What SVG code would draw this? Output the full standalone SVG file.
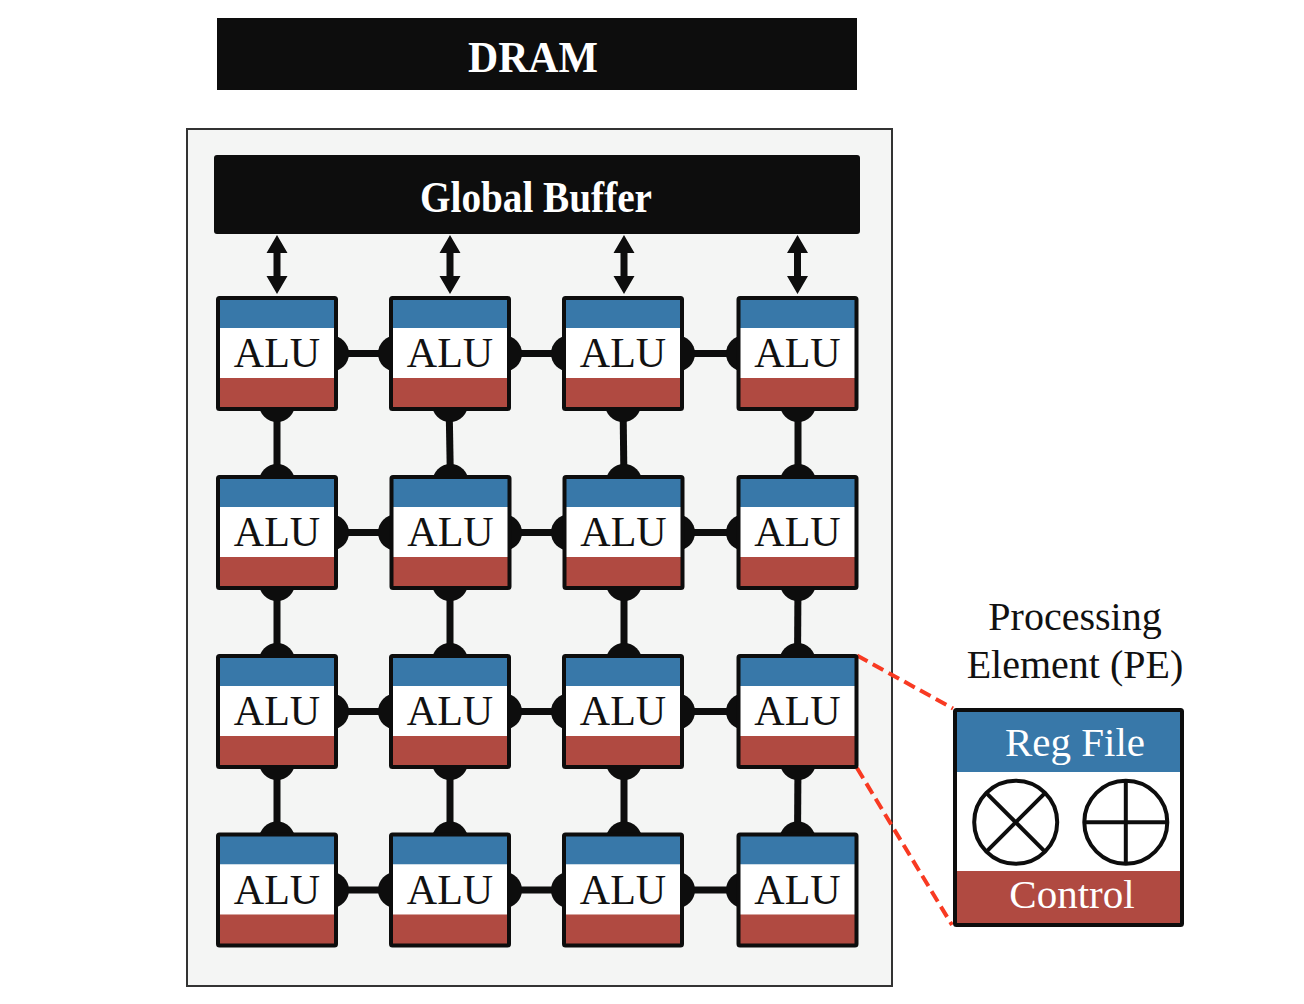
<svg xmlns="http://www.w3.org/2000/svg" xmlns:xlink="http://www.w3.org/1999/xlink" width="1304" height="1004" viewBox="0 0 1304 1004">
<style>
.blk{fill:#0d0d0d}
.blue{fill:#3878a9}
.red{fill:#b04a41}
.wht{fill:#ffffff}
.outl{fill:none;stroke:#0d0d0d;stroke-width:4;stroke-linejoin:round}
.alu{font-family:"Liberation Serif","Times New Roman",serif;font-size:42px;fill:#111;text-anchor:middle}
.ttl{font-family:"Liberation Serif","Times New Roman",serif;font-weight:bold;font-size:44px;fill:#fff;text-anchor:middle}
.lbl{font-family:"Liberation Serif","Times New Roman",serif;font-size:40px;fill:#111;text-anchor:middle}
.wlbl{font-family:"Liberation Serif","Times New Roman",serif;font-size:41px;fill:#fff;text-anchor:middle}
.link{stroke:#0d0d0d;stroke-width:7;fill:none}
.dash{stroke:#f83a22;stroke-width:4;stroke-dasharray:12 6;fill:none}
.op{fill:none;stroke:#0d0d0d;stroke-width:4}
</style>
<defs>
<path id="arrow" class="blk" d="M0,235 L10.5,253 L3.5,253 L3.5,276 L10.5,276 L0,294 L-10.5,276 L-3.5,276 L-3.5,253 L-10.5,253 Z"/>
<g id="pe">
<rect x="2" y="2" width="118" height="30" class="blue"/>
<rect x="2" y="32" width="118" height="50" class="wht"/>
<rect x="2" y="82" width="118" height="31" class="red"/>
<rect x="2" y="2" width="118" height="111" rx="1.5" class="outl"/>
<text x="61" y="71" class="alu">ALU</text>
</g>
</defs>

<g id="dram">
<rect x="217" y="18" width="640" height="72" class="blk"/>
<text x="533" y="72" class="ttl" textLength="130" lengthAdjust="spacingAndGlyphs">DRAM</text>
</g>

<g id="accelerator">
<rect x="187" y="129" width="705" height="857" fill="#f4f5f4" stroke="#333" stroke-width="2"/>
</g>

<g id="global-buffer">
<rect x="214" y="155" width="646" height="79" rx="3" class="blk"/>
<text x="536" y="212" class="ttl" textLength="232" lengthAdjust="spacingAndGlyphs">Global Buffer</text>
</g>

<g id="connectors">
<use xlink:href="#arrow" x="277"/>
<use xlink:href="#arrow" x="450"/>
<use xlink:href="#arrow" x="624"/>
<use xlink:href="#arrow" x="797.5"/>
<!-- horizontal links -->
<g class="link">
<line x1="330" y1="353.5" x2="397" y2="353.5"/>
<line x1="503" y1="353.5" x2="570" y2="353.5"/>
<line x1="676" y1="353.5" x2="745" y2="353.5"/>
<line x1="330" y1="532.5" x2="397" y2="532.5"/>
<line x1="503" y1="532.5" x2="570" y2="532.5"/>
<line x1="676" y1="532.5" x2="745" y2="532.5"/>
<line x1="330" y1="711.5" x2="397" y2="711.5"/>
<line x1="503" y1="711.5" x2="570" y2="711.5"/>
<line x1="676" y1="711.5" x2="745" y2="711.5"/>
<line x1="330" y1="890" x2="397" y2="890"/>
<line x1="503" y1="890" x2="570" y2="890"/>
<line x1="676" y1="890" x2="745" y2="890"/>
<!-- vertical links -->
<line x1="277" y1="400" x2="277" y2="485"/>
<line x1="449" y1="400" x2="450.5" y2="485"/>
<line x1="623" y1="400" x2="624" y2="485"/>
<line x1="798" y1="400" x2="798" y2="485"/>
<line x1="277" y1="579" x2="277" y2="664"/>
<line x1="450" y1="579" x2="450" y2="664"/>
<line x1="624" y1="579" x2="624" y2="664"/>
<line x1="798" y1="579" x2="797.5" y2="664"/>
<line x1="277" y1="758" x2="277" y2="842"/>
<line x1="450" y1="758" x2="450" y2="842"/>
<line x1="624" y1="758" x2="624" y2="842"/>
<line x1="798" y1="758" x2="797.5" y2="842"/>
</g>
<g class="blk">
<!-- horizontal bumps -->
<circle cx="331" cy="353.5" r="18"/><circle cx="396" cy="353.5" r="18"/>
<circle cx="504" cy="353.5" r="18"/><circle cx="569" cy="353.5" r="18"/>
<circle cx="677" cy="353.5" r="18"/><circle cx="744" cy="353.5" r="18"/>
<circle cx="331" cy="532.5" r="18"/><circle cx="396" cy="532.5" r="18"/>
<circle cx="504" cy="532.5" r="18"/><circle cx="569" cy="532.5" r="18"/>
<circle cx="677" cy="532.5" r="18"/><circle cx="744" cy="532.5" r="18"/>
<circle cx="331" cy="711.5" r="18"/><circle cx="396" cy="711.5" r="18"/>
<circle cx="504" cy="711.5" r="18"/><circle cx="569" cy="711.5" r="18"/>
<circle cx="677" cy="711.5" r="18"/><circle cx="744" cy="711.5" r="18"/>
<circle cx="331" cy="890" r="18"/><circle cx="396" cy="890" r="18"/>
<circle cx="504" cy="890" r="18"/><circle cx="569" cy="890" r="18"/>
<circle cx="677" cy="890" r="18"/><circle cx="744" cy="890" r="18"/>
<!-- vertical bumps -->
<circle cx="277" cy="404" r="18"/><circle cx="277" cy="482" r="18"/>
<circle cx="450" cy="404" r="18"/><circle cx="450.5" cy="482" r="18"/>
<circle cx="623" cy="404" r="18"/><circle cx="624" cy="482" r="18"/>
<circle cx="798" cy="404" r="18"/><circle cx="798" cy="482" r="18"/>
<circle cx="277" cy="583" r="18"/><circle cx="277" cy="661" r="18"/>
<circle cx="450" cy="583" r="18"/><circle cx="450" cy="661" r="18"/>
<circle cx="624" cy="583" r="18"/><circle cx="624" cy="661" r="18"/>
<circle cx="798" cy="583" r="18"/><circle cx="797.5" cy="661" r="18"/>
<circle cx="277" cy="762" r="18"/><circle cx="277" cy="839.5" r="18"/>
<circle cx="450" cy="762" r="18"/><circle cx="450" cy="839.5" r="18"/>
<circle cx="624" cy="762" r="18"/><circle cx="624" cy="839.5" r="18"/>
<circle cx="798" cy="762" r="18"/><circle cx="797.5" cy="839.5" r="18"/>
</g>
<!-- zoom callout -->
<line x1="857" y1="655.5" x2="953" y2="708.5" class="dash"/>
<line x1="857" y1="768" x2="952" y2="925" class="dash"/>
</g>

<g id="pe-1-1"><use xlink:href="#pe" x="216" y="296"/></g>
<g id="pe-1-2"><use xlink:href="#pe" x="389" y="296"/></g>
<g id="pe-1-3"><use xlink:href="#pe" x="562" y="296"/></g>
<g id="pe-1-4"><use xlink:href="#pe" x="736.5" y="296"/></g>
<g id="pe-2-1"><use xlink:href="#pe" x="216" y="475"/></g>
<g id="pe-2-2"><use xlink:href="#pe" x="389.5" y="475"/></g>
<g id="pe-2-3"><use xlink:href="#pe" x="562.5" y="475"/></g>
<g id="pe-2-4"><use xlink:href="#pe" x="736.5" y="475"/></g>
<g id="pe-3-1"><use xlink:href="#pe" x="216" y="654"/></g>
<g id="pe-3-2"><use xlink:href="#pe" x="389" y="654"/></g>
<g id="pe-3-3"><use xlink:href="#pe" x="562" y="654"/></g>
<g id="pe-3-4"><use xlink:href="#pe" x="736.5" y="654"/></g>
<g id="pe-4-1"><use xlink:href="#pe" x="216" y="832.5"/></g>
<g id="pe-4-2"><use xlink:href="#pe" x="389" y="832.5"/></g>
<g id="pe-4-3"><use xlink:href="#pe" x="562" y="832.5"/></g>
<g id="pe-4-4"><use xlink:href="#pe" x="736.5" y="832.5"/></g>

<g id="pe-title">
<text x="1075" y="630" class="lbl">Processing</text>
<text x="1075" y="678" class="lbl">Element (PE)</text>
</g>

<g id="pe-detail">
<rect x="955" y="710" width="227" height="62" class="blue"/>
<rect x="955" y="772" width="227" height="99" class="wht"/>
<rect x="955" y="871" width="227" height="54" class="red"/>
<rect x="955" y="710" width="227" height="215" rx="1.5" class="outl"/>
<text x="1075" y="756" class="wlbl">Reg File</text>
<text x="1072" y="908" class="wlbl" font-size="42">Control</text>
<circle cx="1015.7" cy="822.3" r="41.5" class="op"/>
<line x1="985.7" y1="792.3" x2="1045.7" y2="852.3" class="op"/>
<line x1="1045.7" y1="792.3" x2="985.7" y2="852.3" class="op"/>
<circle cx="1125.8" cy="822.3" r="41.5" class="op"/>
<line x1="1125.8" y1="780.8" x2="1125.8" y2="863.8" class="op"/>
<line x1="1084.3" y1="822.3" x2="1167.3" y2="822.3" class="op"/>
</g>
</svg>
